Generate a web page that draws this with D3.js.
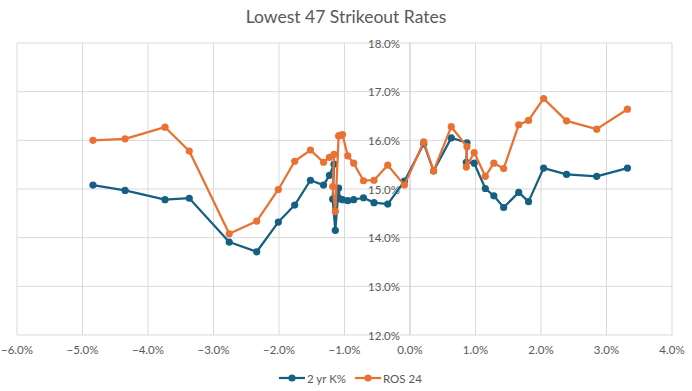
<!DOCTYPE html>
<html>
<head>
<meta charset="utf-8">
<script src="https://cdn.jsdelivr.net/npm/d3@7"></script>
<style>
  body { margin: 0; background: #fff; }
  text { font-family: Lato, "Liberation Sans", sans-serif; fill: #595959; }
</style>
</head>
<body>
<div id="chart"></div>
<script>
// data, in the order the lines are drawn (shared x values, two y series)
var xVals = [-4.84, -4.35, -3.74, -3.37, -2.76, -2.34, -2.01, -1.76, -1.52, -1.32,
  -1.23, -1.16, -1.18, -1.14, -1.09, -1.07, -1.03, -0.95, -0.86, -0.71,
  -0.55, -0.34, -0.085, 0.21, 0.36, 0.63, 0.87, 0.86, 0.98, 1.15,
  1.28, 1.43, 1.66, 1.81, 2.04, 2.39, 2.85, 3.32];
var twoYr = [15.08, 14.97, 14.78, 14.81, 13.91, 13.71, 14.32, 14.67, 15.18, 15.08,
  15.28, 15.51, 14.79, 14.15, 15.02, 14.80, 14.78, 14.76, 14.78, 14.82,
  14.72, 14.69, 15.16, 15.93, 15.37, 16.05, 15.95, 15.55, 15.53, 15.01,
  14.86, 14.62, 14.93, 14.74, 15.43, 15.30, 15.26, 15.43];
var ros24 = [16.00, 16.03, 16.27, 15.78, 14.08, 14.34, 14.99, 15.57, 15.80, 15.55,
  15.65, 15.71, 15.05, 14.54, 16.09, 16.10, 16.12, 15.68, 15.53, 15.17,
  15.18, 15.49, 15.08, 15.97, 15.37, 16.28, 15.87, 15.45, 15.75, 15.26,
  15.53, 15.42, 16.32, 16.41, 16.86, 16.40, 16.23, 16.64];
var xTicks = [-6, -5, -4, -3, -2, -1, 0, 1, 2, 3, 4];
var yTicks = [12, 13, 14, 15, 16, 17, 18];
var seriesNames = ["2 yr K%", "ROS 24"];
var colors = ["#156082", "#E97132"];

var W = 692, H = 391;
var margin = {top: 43, right: 20, bottom: 56, left: 17};

var svg = d3.select("#chart").append("svg")
  .attr("width", W).attr("height", H);

var x = d3.scaleLinear().domain([-6, 4]).range([margin.left, W - margin.right]);
var y = d3.scaleLinear().domain([12, 18]).range([H - margin.bottom, margin.top]);

// title
svg.append("text")
  .attr("x", W / 2).attr("y", 23)
  .attr("text-anchor", "middle")
  .style("font-size", "17.5px")
  .text("Lowest 47 Strikeout Rates");

// gridlines
svg.append("g").selectAll("line").data(yTicks).join("line")
  .attr("x1", x(-6)).attr("x2", x(4))
  .attr("y1", d => y(d)).attr("y2", d => y(d))
  .attr("stroke", "#d9d9d9").attr("stroke-width", 1);
svg.append("g").selectAll("line").data(xTicks).join("line")
  .attr("x1", d => x(d)).attr("x2", d => x(d))
  .attr("y1", y(12)).attr("y2", y(18))
  .attr("stroke", d => d === 0 ? "#bfbfbf" : "#d9d9d9").attr("stroke-width", 1);

// x tick labels
svg.append("g").selectAll("text").data(xTicks).join("text")
  .attr("x", d => x(d)).attr("y", y(12) + 19)
  .attr("text-anchor", "middle")
  .style("font-size", "11.5px")
  .text(d => d3.format(".1f")(d) + "%");

// y tick labels, next to the vertical axis at x = 0
svg.append("g").selectAll("text").data(yTicks).join("text")
  .attr("x", x(0) - 10).attr("y", d => y(d) + 4.5)
  .attr("text-anchor", "end")
  .style("font-size", "11.5px")
  .text(d => d3.format(".1f")(d) + "%");

// series
var series = [twoYr, ros24];
series.forEach(function(vals, k) {
  var pts = xVals.map((xv, i) => [xv, vals[i]]);
  svg.append("path")
    .datum(pts)
    .attr("fill", "none")
    .attr("stroke", colors[k])
    .attr("stroke-width", 2.25)
    .attr("stroke-linejoin", "round")
    .attr("d", d3.line().x(d => x(d[0])).y(d => y(d[1])));
  svg.append("g").selectAll("circle").data(pts).join("circle")
    .attr("cx", d => x(d[0])).attr("cy", d => y(d[1]))
    .attr("r", 3.6)
    .attr("fill", colors[k]);
});

// legend
var legend = svg.append("g");
var lx = [279, 355];
seriesNames.forEach(function(name, k) {
  var g = legend.append("g").attr("transform", "translate(" + lx[k] + ",378)");
  g.append("line").attr("x1", 0).attr("x2", 26).attr("y1", 0).attr("y2", 0)
    .attr("stroke", colors[k]).attr("stroke-width", 2.25);
  g.append("circle").attr("cx", 13).attr("cy", 0).attr("r", 3.6).attr("fill", colors[k]);
  g.append("text").attr("x", 28).attr("y", 4.5)
    .style("font-size", "11.5px")
    .text(name);
});
</script>
</body>
</html>
